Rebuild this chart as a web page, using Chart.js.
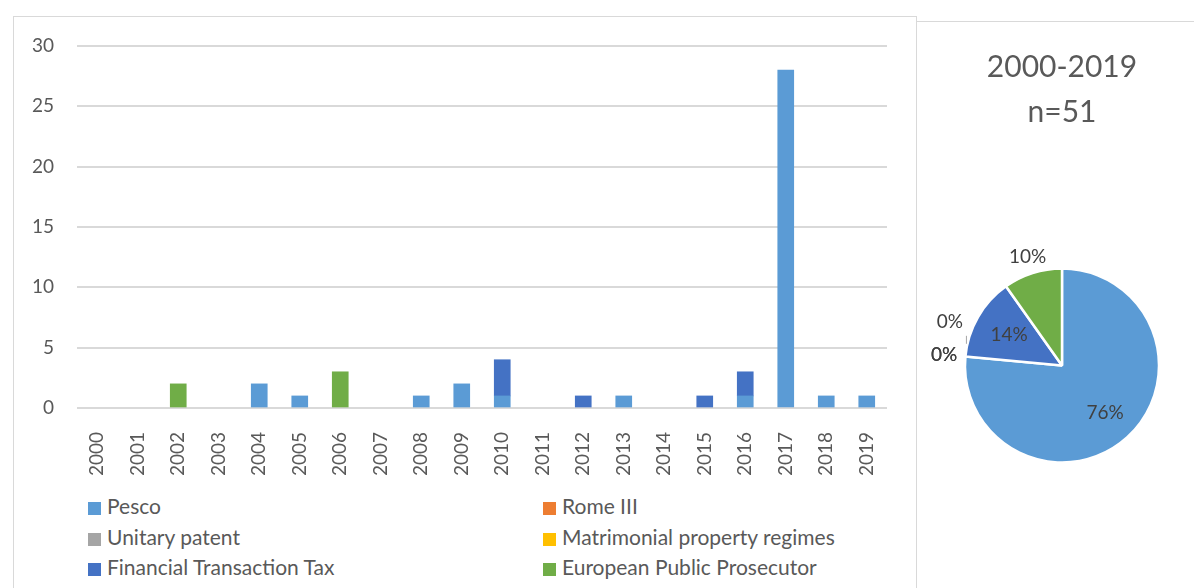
<!DOCTYPE html>
<html>
<head>
<meta charset="utf-8">
<script src="https://cdn.jsdelivr.net/npm/chart.js@4"></script>
<style>
  body { margin: 0; background: #fff; overflow: hidden; font-family: Lato, sans-serif; }
  .box { position: absolute; border: 1px solid #d9d9d9; box-sizing: border-box; }
  #left-box { left: 13px; top: 16px; width: 904px; height: 600px; }
  #right-box { left: 916px; top: 21px; width: 300px; height: 600px; }
  #bars { position: absolute; left: 0; top: 0; }
  #pie { position: absolute; left: 917px; top: 23px; }
  #legend { position: absolute; left: 88px; top: 494px; width: 800px; }
  .item { position: absolute; height: 24px; line-height: 24px; font-size: 21px; color: #595959; white-space: nowrap; }
  .item span { display: inline-block; width: 13px; height: 13px; margin-right: 6px; vertical-align: -1px; }
</style>
</head>
<body>
<div class="box" id="left-box"></div>
<div class="box" id="right-box"></div>
<canvas id="bars" width="916" height="488"></canvas>
<canvas id="pie" width="277" height="565"></canvas>
<div id="legend"></div>
<script>
// data
const years = ['2000', '2001', '2002', '2003', '2004', '2005', '2006', '2007', '2008', '2009',
               '2010', '2011', '2012', '2013', '2014', '2015', '2016', '2017', '2018', '2019'];
const seriesNames = ['Pesco', 'Rome III', 'Unitary patent', 'Matrimonial property regimes',
                     'Financial Transaction Tax', 'European Public Prosecutor'];
const pesco       = [0, 0, 0, 0, 2, 1, 0, 0, 1, 2, 1, 0, 0, 1, 0, 0, 1, 28, 1, 1];
const romeIII     = [0, 0, 0, 0, 0, 0, 0, 0, 0, 0, 0, 0, 0, 0, 0, 0, 0, 0, 0, 0];
const unitary     = [0, 0, 0, 0, 0, 0, 0, 0, 0, 0, 0, 0, 0, 0, 0, 0, 0, 0, 0, 0];
const matrimonial = [0, 0, 0, 0, 0, 0, 0, 0, 0, 0, 0, 0, 0, 0, 0, 0, 0, 0, 0, 0];
const ftt         = [0, 0, 0, 0, 0, 0, 0, 0, 0, 0, 3, 0, 1, 0, 0, 1, 2, 0, 0, 0];
const epp         = [0, 0, 2, 0, 0, 0, 3, 0, 0, 0, 0, 0, 0, 0, 0, 0, 0, 0, 0, 0];
const yMax = 30;
const yStep = 5;
const pieTitle = '2000-2019';

const colors = ['#5B9BD5', '#ED7D31', '#A5A5A5', '#FFC000', '#4472C4', '#70AD47'];
const series = [pesco, romeIII, unitary, matrimonial, ftt, epp];

Chart.defaults.font.family = 'Lato, sans-serif';
Chart.defaults.color = '#595959';
Chart.defaults.animation = false;

new Chart(document.getElementById('bars'), {
    type: 'bar',
    data: {
        labels: years,
        datasets: series.map((d, i) => ({
            label: seriesNames[i],
            // zero years get no bar at all
            data: d.map(v => (v === 0 ? null : v)),
            backgroundColor: colors[i],
            barThickness: 16
        }))
    },
    options: {
        responsive: false,
        layout: { padding: { top: 46, right: 29, left: 0, bottom: 0 } },
        plugins: { legend: { display: false }, tooltip: { enabled: false } },
        scales: {
            x: {
                stacked: true,
                grid: { display: false },
                border: { display: false },
                ticks: { font: { size: 19 }, minRotation: 90, maxRotation: 90, padding: 16, autoSkip: false },
                afterFit: (s) => { s.height = 80; }
            },
            y: {
                stacked: true,
                min: 0,
                max: yMax,
                ticks: { stepSize: yStep, font: { size: 19 }, padding: 23 },
                grid: { color: '#d9d9d9', lineWidth: 2, drawTicks: false },
                border: { display: false },
                afterFit: (s) => { s.width = 77; }
            }
        }
    }
});

// legend in two columns, like the original
const legend = document.getElementById('legend');
seriesNames.forEach((name, i) => {
    const el = document.createElement('div');
    el.className = 'item';
    el.style.left = (i % 2 ? 455 : 0) + 'px';
    el.style.top = (Math.floor(i / 2) * 30.5) + 'px';
    el.innerHTML = '<span style="background:' + colors[i] + '"></span>' + name;
    legend.appendChild(el);
});

// pie of totals
const totals = series.map(d => d.reduce((a, b) => a + b, 0));
const n = totals.reduce((a, b) => a + b, 0);

// where each percentage label sits: fraction of radius, extra angle in degrees
const labelSpots = [
    { r: 0.66, da: 0 },
    { r: 1.22, da: 0 },
    { r: 1.22, da: 0 },
    { r: 1.24, da: 16, leader: true },
    { r: 0.63, da: 0 },
    { r: 1.17, da: 0 }
];

const pieLabels = {
    id: 'pieLabels',
    afterDatasetsDraw(chart) {
        const ctx = chart.ctx;
        const arcs = chart.getDatasetMeta(0).data;
        ctx.save();
        ctx.font = '19px Lato, sans-serif';
        ctx.fillStyle = '#404040';
        ctx.textAlign = 'center';
        ctx.textBaseline = 'middle';
        arcs.forEach((arc, i) => {
            const p = arc.getProps(['x', 'y', 'startAngle', 'endAngle', 'outerRadius'], true);
            const spot = labelSpots[i];
            const a = (p.startAngle + p.endAngle) / 2 + spot.da * Math.PI / 180;
            const lx = p.x + Math.cos(a) * p.outerRadius * spot.r;
            const ly = p.y + Math.sin(a) * p.outerRadius * spot.r;
            const pct = Math.round(totals[i] / n * 100) + '%';
            ctx.fillText(pct, lx, ly);
            if (spot.leader) {
                ctx.strokeStyle = '#a6a6a6';
                ctx.lineWidth = 1;
                ctx.beginPath();
                ctx.moveTo(lx + 16.5, ly + 14);
                ctx.lineTo(lx + 16.5, ly + 22);
                ctx.stroke();
            }
        });
        ctx.restore();
    }
};

new Chart(document.getElementById('pie'), {
    type: 'pie',
    data: {
        labels: seriesNames,
        datasets: [{
            data: totals,
            backgroundColor: colors,
            borderColor: '#ffffff',
            borderWidth: 2.5,
            radius: 97
        }]
    },
    options: {
        responsive: false,
        layout: { padding: { left: 13, right: 0, top: 0, bottom: 2 } },
        plugins: {
            legend: { display: false },
            tooltip: { enabled: false },
            title: {
                display: true,
                text: [pieTitle, 'n=' + n],
                font: { size: 30, weight: 'normal', lineHeight: 1.5 },
                color: '#595959',
                padding: { top: 22, bottom: 10 }
            }
        }
    },
    plugins: [pieLabels]
});
</script>
</body>
</html>
